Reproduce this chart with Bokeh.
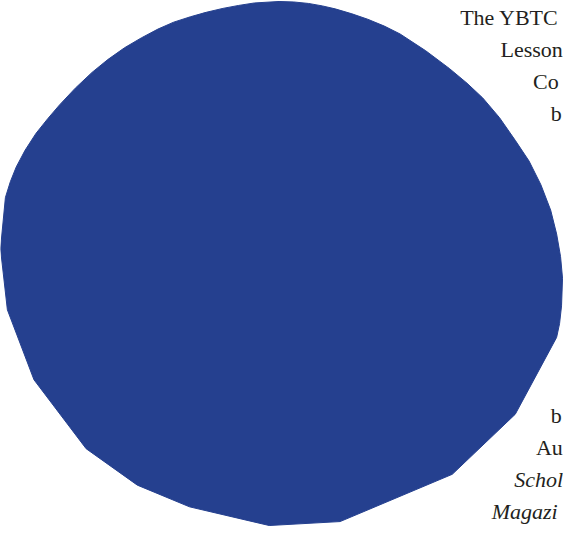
from bokeh.plotting import figure
from bokeh.models import Range1d
from bokeh.embed import file_html
from bokeh.resources import INLINE
from bokeh.core.properties import value

# Outline of the blue shape (reference pixel coordinates, y measured downward)
outline_x = [7, 12, 17, 23, 32, 43, 55, 67, 83, 100, 116, 133, 150, 167, 183, 200,
             216, 233, 249, 265, 290, 305, 320, 334, 347, 364, 380, 397, 413, 439,
             463, 481, 497, 514, 530, 544, 556, 566, 572, 576, 578,
             577, 575, 572, 530, 466, 352, 280, 199, 146, 94, 41, 14]
outline_y = [260, 208, 192, 177, 160, 143, 128, 114, 97, 81, 68, 56, 46, 37, 30, 24.5,
             20, 16, 13, 10.5, 9, 9.5, 11, 13.5, 16.5, 21.5, 27, 34, 42, 59,
             77, 92, 107, 127, 150, 171, 195, 221, 245, 268, 290,
             318, 336, 350, 428, 489, 537, 541, 522, 500, 463, 393, 322]

# Visible text fragments, as shown in the reference (cut at the right edge there)
top_lines = ["The YBTC", "Lesson", "Co", "b"]
top_x = [474, 515, 548, 566]
bottom_lines = ["b", "Au", "Schol", "Magazi"]
bottom_x = [566, 551, 529, 506]
bottom_styles = ["normal", "normal", "italic", "italic"]

TOP_BASE, TOP_GAP = 25, 32.5
BOTTOM_BASE, BOTTOM_GAP = 429, 32.5

p = figure(width=563, height=526, output_backend="svg", toolbar_location=None,
           x_range=Range1d(7, 579), y_range=Range1d(542, 8), min_border=0,
           background_fill_color="white", border_fill_color="white")
p.axis.visible = False
p.grid.visible = False
p.outline_line_color = None

p.patch(outline_x, outline_y, fill_color="#25408F", line_color="#25408F", line_width=1)

top_y = [TOP_BASE + i * TOP_GAP for i in range(len(top_lines))]
bottom_y = [BOTTOM_BASE + i * BOTTOM_GAP for i in range(len(bottom_lines))]

p.text(x=top_x, y=top_y, text=top_lines, text_font=value("Liberation Serif"),
       text_font_size="22px", text_color="#231F20", text_align="left",
       text_baseline="alphabetic")
for i in range(len(bottom_lines)):
    p.text(x=[bottom_x[i]], y=[bottom_y[i]], text=[bottom_lines[i]],
           text_font=value("Liberation Serif"), text_font_size="22px",
           text_font_style=bottom_styles[i], text_color="#231F20",
           text_align="left", text_baseline="alphabetic")

open("out.html", "w").write(file_html(p, INLINE))
